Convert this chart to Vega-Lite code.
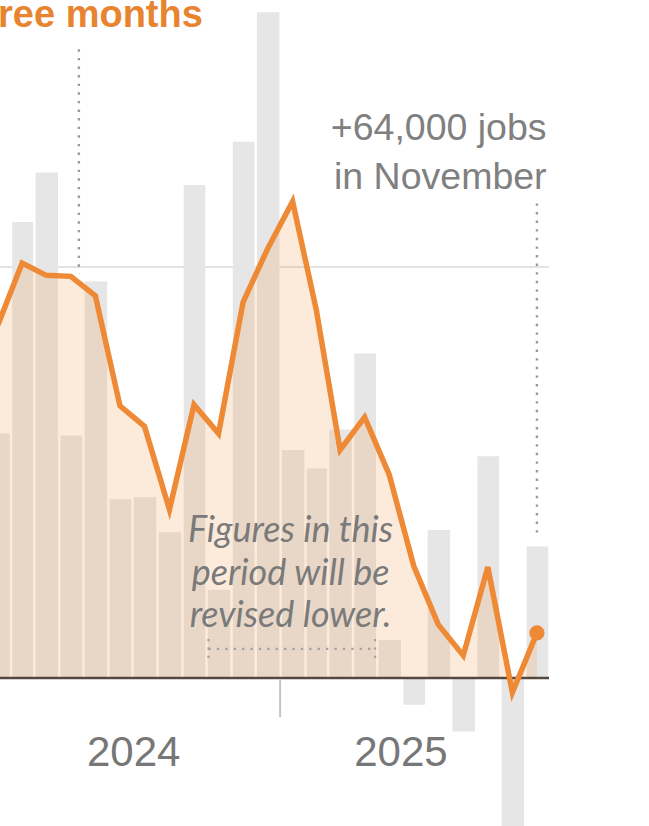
{
  "$schema": "https://vega.github.io/schema/vega-lite/v6.json",
  "width": 549,
  "height": 826,
  "padding": 0,
  "autosize": {"type": "none"},
  "background": "white",
  "config": {"view": {"stroke": null}},
  "data": {"values": [{}]},
  "datasets": {
    "jobs": [
      {"date": "2024-01-01", "jobs": 119, "avg": 172},
      {"date": "2024-02-01", "jobs": 222, "avg": 202},
      {"date": "2024-03-01", "jobs": 246, "avg": 196},
      {"date": "2024-04-01", "jobs": 118, "avg": 195.5},
      {"date": "2024-05-01", "jobs": 193, "avg": 186},
      {"date": "2024-06-01", "jobs": 87, "avg": 132.5},
      {"date": "2024-07-01", "jobs": 88, "avg": 122.5},
      {"date": "2024-08-01", "jobs": 71, "avg": 82},
      {"date": "2024-09-01", "jobs": 240, "avg": 133},
      {"date": "2024-10-01", "jobs": 43, "avg": 119},
      {"date": "2024-11-01", "jobs": 261, "avg": 183},
      {"date": "2024-12-01", "jobs": 324, "avg": 209},
      {"date": "2025-01-01", "jobs": 111, "avg": 232},
      {"date": "2025-02-01", "jobs": 102, "avg": 179},
      {"date": "2025-03-01", "jobs": 121, "avg": 111},
      {"date": "2025-04-01", "jobs": 158, "avg": 127},
      {"date": "2025-05-01", "jobs": 18.5, "avg": 99},
      {"date": "2025-06-01", "jobs": -13, "avg": 54.5},
      {"date": "2025-07-01", "jobs": 72, "avg": 26},
      {"date": "2025-08-01", "jobs": -26, "avg": 11},
      {"date": "2025-09-01", "jobs": 108, "avg": 54},
      {"date": "2025-10-01", "jobs": -105, "avg": -7},
      {"date": "2025-11-01", "jobs": 64, "avg": 22}
    ]
  },
  "layer": [
    {
      "mark": {"type": "rule", "color": "#e3e3e3", "strokeWidth": 2},
      "encoding": {
        "y": {"datum": 200, "type": "quantitative", "scale": {"domain": [-72, 330], "nice": false, "zero": false}, "axis": null}
      }
    },
    {
      "data": {"name": "jobs"},
      "mark": {"type": "bar", "color": "#e6e6e6", "clip": true, "binSpacing": 2.5},
      "encoding": {
        "x": {
          "field": "date", "timeUnit": "utcyearmonth", "type": "temporal",
          "scale": {"type": "utc", "domain": [{"year": 2024, "month": 1, "date": 19, "utc": true}, {"year": 2025, "month": 12, "date": 1, "utc": true}]},
          "axis": null
        },
        "y": {"field": "jobs", "type": "quantitative", "axis": null}
      }
    },
    {
      "data": {"name": "jobs"},
      "mark": {"type": "area", "color": "#f09b4b", "opacity": 0.2, "clip": true},
      "encoding": {
        "x": {"field": "date", "timeUnit": "utcyearmonth", "type": "temporal", "bandPosition": 0.5},
        "y": {"field": "avg", "type": "quantitative", "stack": null}
      }
    },
    {
      "mark": {"type": "rule", "color": "#55483f", "strokeWidth": 2.5},
      "encoding": {"y": {"datum": 0, "type": "quantitative"}}
    },
    {
      "mark": {"type": "rule", "color": "#c4c4c4", "strokeWidth": 2},
      "encoding": {
        "x": {"datum": {"year": 2025, "month": 1, "date": 1, "utc": true}, "type": "temporal"},
        "y": {"datum": -1},
        "y2": {"datum": -19}
      }
    },
    {
      "data": {"name": "jobs"},
      "mark": {"type": "line", "color": "#ee8a36", "strokeWidth": 5.5, "clip": true},
      "encoding": {
        "x": {"field": "date", "timeUnit": "utcyearmonth", "type": "temporal", "bandPosition": 0.5},
        "y": {"field": "avg", "type": "quantitative"}
      }
    },
    {
      "mark": {"type": "rule", "color": "#999999", "strokeWidth": 2.4, "strokeDash": [2.4, 6.2]},
      "encoding": {
        "x": {"datum": {"year": 2024, "month": 4, "date": 26, "utc": true}, "type": "temporal"},
        "y": {"datum": 306},
        "y2": {"datum": 197}
      }
    },
    {
      "mark": {"type": "rule", "color": "#999999", "strokeWidth": 2.4, "strokeDash": [2.4, 6.2]},
      "encoding": {
        "x": {"datum": {"year": 2025, "month": 11, "date": 16, "utc": true}, "type": "temporal"},
        "y": {"datum": 231},
        "y2": {"datum": 68}
      }
    },
    {
      "mark": {"type": "rule", "color": "#a0a0a0", "strokeWidth": 2.2, "strokeDash": [2.2, 6.2]},
      "encoding": {
        "x": {"datum": {"year": 2024, "month": 10, "date": 4, "utc": true}, "type": "temporal"},
        "x2": {"datum": {"year": 2025, "month": 4, "date": 29, "utc": true}},
        "y": {"datum": 14.2}
      }
    },
    {
      "mark": {"type": "rule", "color": "#a0a0a0", "strokeWidth": 2.2, "strokeDash": [2.2, 6.2]},
      "encoding": {
        "x": {"datum": {"year": 2024, "month": 10, "date": 4, "utc": true}, "type": "temporal"},
        "y": {"datum": 19},
        "y2": {"datum": 9.5}
      }
    },
    {
      "mark": {"type": "rule", "color": "#a0a0a0", "strokeWidth": 2.2, "strokeDash": [2.2, 6.2]},
      "encoding": {
        "x": {"datum": {"year": 2025, "month": 4, "date": 29, "utc": true}, "type": "temporal"},
        "y": {"datum": 19},
        "y2": {"datum": 9.5}
      }
    },
    {
      "mark": {"type": "text", "text": "Average over the past three months", "font": "Liberation Sans", "fontWeight": "bold", "fontSize": 38, "color": "#e8842f", "align": "right", "baseline": "alphabetic", "clip": true},
      "encoding": {
        "x": {"datum": {"year": 2024, "month": 9, "date": 27, "utc": true}, "type": "temporal"},
        "y": {"datum": 317}
      }
    },
    {
      "mark": {"type": "text", "text": ["+64,000 jobs", "in November"], "font": "Liberation Sans", "fontSize": 37.5, "lineHeight": 49, "color": "#808080", "align": "right", "baseline": "alphabetic"},
      "encoding": {
        "x": {"datum": {"year": 2025, "month": 11, "date": 28, "utc": true}, "type": "temporal"},
        "y": {"datum": 262}
      }
    },
    {
      "mark": {"type": "text", "text": ["Figures in this", "period will be", "revised lower."], "font": "Lato", "fontStyle": "italic", "fontSize": 36, "lineHeight": 42.5, "color": "#7a7a7a", "align": "center", "baseline": "alphabetic"},
      "encoding": {
        "x": {"datum": {"year": 2025, "month": 1, "date": 14, "utc": true}, "type": "temporal"},
        "y": {"datum": 66.2}
      }
    },
    {
      "mark": {"type": "text", "text": "2024", "font": "Liberation Sans", "fontSize": 42, "color": "#777777", "align": "center", "baseline": "alphabetic"},
      "encoding": {
        "x": {"datum": {"year": 2024, "month": 7, "date": 3, "utc": true}, "type": "temporal"},
        "y": {"datum": -42.8}
      }
    },
    {
      "mark": {"type": "text", "text": "2025", "font": "Liberation Sans", "fontSize": 42, "color": "#777777", "align": "center", "baseline": "alphabetic"},
      "encoding": {
        "x": {"datum": {"year": 2025, "month": 5, "date": 31, "utc": true}, "type": "temporal"},
        "y": {"datum": -42.8}
      }
    },
    {
      "data": {"name": "jobs"},
      "transform": [{"filter": "utcyear(datum.date) == 2025 && utcmonth(datum.date) == 10"}],
      "mark": {"type": "point", "filled": true, "opacity": 1, "size": 230, "color": "#ee8a36"},
      "encoding": {
        "x": {"field": "date", "timeUnit": "utcyearmonth", "type": "temporal", "bandPosition": 0.5},
        "y": {"field": "avg", "type": "quantitative"}
      }
    }
  ]
}
